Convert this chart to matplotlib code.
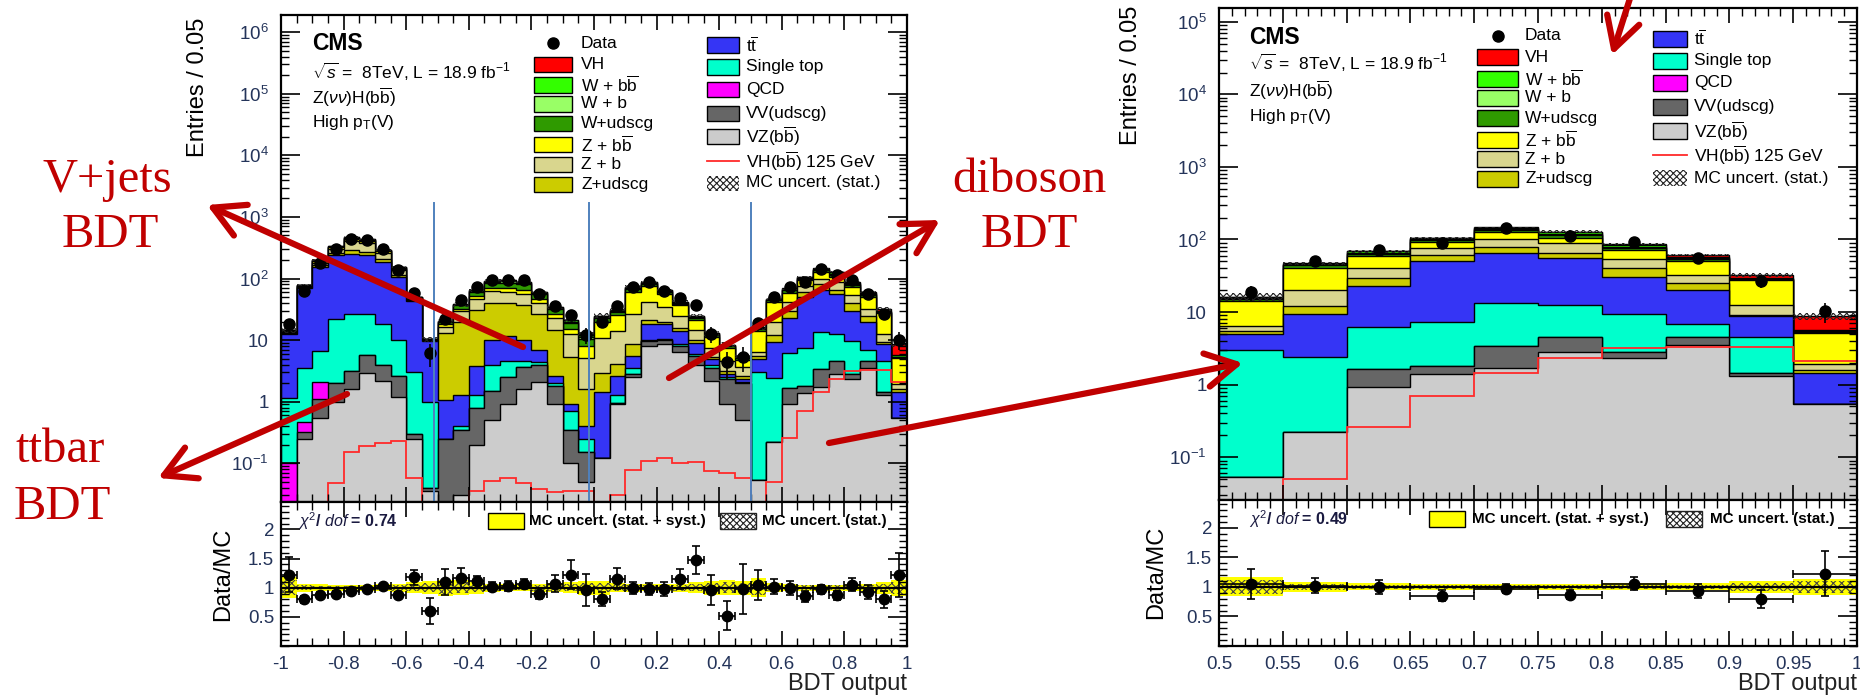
import numpy as np
import matplotlib.pyplot as plt
from matplotlib.patches import Rectangle, FancyArrowPatch
from matplotlib.lines import Line2D
from matplotlib.ticker import MultipleLocator, LogLocator, NullFormatter, FuncFormatter, FixedLocator

plt.rcParams['font.family'] = ['Liberation Sans', 'DejaVu Sans']
plt.rcParams['mathtext.fontset'] = 'custom'
plt.rcParams['mathtext.rm'] = 'Liberation Sans'
plt.rcParams['mathtext.it'] = 'Liberation Sans:italic'
plt.rcParams['mathtext.bf'] = 'Liberation Sans:bold'
plt.rcParams['hatch.linewidth'] = 0.8

# ---------------- data ----------------
# stack order, bottom -> top
procs = ['VZbb', 'VVudscg', 'QCD', 'stop', 'ttbar', 'Zudscg', 'Zb', 'Zbb', 'Wudscg', 'Wb', 'Wbb', 'VH']
colors = ['#cccccc', '#666666', '#ff00ff', '#00ffcc', '#3535f5', '#cccc00', '#d9d68e',
          '#ffff00', '#2f9a00', '#99ff66', '#33ff00', '#ff0000']

# BDT output 0.5 .. 1 (right panel, also the last 10 bins of the left panel)
vzbb_hi = [0.054, 0.22, 0.93, 1.38, 1.7, 2.85, 2.3, 3.5, 1.3, 0.54]
vv_hi = [0.0, 0.0, 0.72, 0.42, 1.7, 1.65, 0.5, 1.0, 0.15, 0.0]
qcd_hi = [0.0, 0.0, 0.0, 0.0, 0.0, 0.0, 0.0, 0.0, 0.0, 0.0]
stop_hi = [2.95, 2.2, 4.55, 5.5, 10.1, 8.2, 6.7, 2.4, 3.05, 0.0]
tt_hi = [2.0, 6.9, 16.3, 42.7, 52.5, 42.3, 20.5, 13.1, 4.2, 0.91]
zudscg_hi = [0.5, 2.7, 7.0, 11.0, 14.0, 11.0, 10.0, 5.0, 0.5, 0.15]
zb_hi = [1.0, 8.0, 11.5, 15.0, 20.0, 23.0, 13.0, 7.0, 3.4, 0.3]
zbb_hi = [7.5, 21.0, 18.0, 17.0, 26.0, 17.0, 19.0, 18.0, 14.9, 3.3]
wudscg_hi = [1.0, 3.0, 5.0, 6.0, 9.0, 8.0, 5.0, 3.0, 0.8, 0.1]
wb_hi = [0.5, 1.0, 2.0, 3.0, 4.0, 4.0, 3.0, 2.0, 0.4, 0.1]
wbb_hi = [0.6, 1.5, 2.5, 3.0, 6.0, 8.0, 4.0, 3.0, 1.0, 0.3]
vh_hi = [0.2, 0.3, 0.4, 0.7, 1.4, 2.0, 2.5, 3.0, 2.8, 3.0]
vh125_hi = [0.0, 0.05, 0.26, 0.7, 1.45, 2.3, 3.2, 3.3, 3.3, 2.1]
data_hi = [18.6, 50, 72, 89, 143, 112, 93, 55, 26.5, 10.2]
ratio_hi = [1.05, 1.02, 1.0, 0.85, 0.97, 0.87, 1.05, 0.93, 0.8, 1.22]
rerr_hi = [0.26, 0.13, 0.12, 0.09, 0.08, 0.08, 0.11, 0.12, 0.15, 0.38]
syst_hi = [0.16, 0.08, 0.06, 0.05, 0.05, 0.05, 0.06, 0.06, 0.10, 0.14]
stat_hi = [0.12, 0.05, 0.04, 0.04, 0.03, 0.04, 0.04, 0.04, 0.07, 0.10]

# BDT output -1 .. 0.5 (first 30 bins of the left panel)
vzbb_lo = [0, 0.25, 0.55, 1.0, 1.6, 2.9, 2.2, 1.2, 0.25, 0.035,
           0, 0.03, 0.2, 0.5, 0.9, 1.6, 2.1, 0.9, 0.1, 0.05,
           0.12, 0.9, 2.5, 8.0, 8.5, 6.5, 4.0, 2.2, 0.9, 0.5]
vv_lo = [0, 0.07, 0.55, 1.0, 1.6, 2.9, 1.8, 1.4, 0.05, 0.005,
         0.25, 0.32, 0.6, 1.0, 1.6, 2.1, 1.9, 0.9, 0.25, 0.1,
         0, 0.05, 0.3, 1.5, 1.5, 1.5, 1.5, 1.3, 1.4, 1.5]
qcd_lo = [0.1, 0.15, 1.0, 0, 0, 0, 0, 0, 0, 0,
          0, 0, 0, 0, 0, 0, 0, 0, 0, 0,
          0, 0, 0, 0, 0, 0, 0, 0, 0, 0]
stop_lo = [1.05, 3.0, 4.5, 20, 23, 21, 14, 7.5, 2.7, 0.95,
           0, 0.05, 0.5, 2.5, 2.0, 0.8, 0.4, 0.2, 0.35, 0.1,
           0, 0.35, 0.7, 0.5, 0.3, 0.5, 0.5, 0.5, 0.2, 0.1]
tt_lo = [11.5, 66, 150, 215, 220, 210, 170, 95, 40, 8.5,
         0.8, 0.9, 2.5, 6, 7, 5.5, 2.5, 0.6, 0.2, 0.15,
         1.3, 1.3, 2.0, 8, 7.7, 5.5, 3, 1, 0.3, 0.2]
zudscg_lo = [0.5, 2.5, 10, 20, 40, 35, 20, 10, 1.5, 0.2,
             12, 18, 27, 30, 28, 27, 20, 12, 4.5, 1.2,
             1.5, 1.5, 3, 3, 2, 1.5, 1, 0.4, 0.3, 0.3]
zb_lo = [0.5, 2.5, 15, 45, 120, 105, 50, 20, 2, 0.3,
         3.5, 10, 15, 22, 22, 20, 13, 8, 7, 3.5,
         8, 10, 18, 20, 14, 9, 4.5, 2, 1.5, 1]
zbb_lo = [0.6, 2.5, 12, 18, 35, 32, 18, 10, 2, 0.2,
          1.5, 3, 6, 8, 9, 9, 7, 4, 3, 3,
          9, 11, 35, 35, 22, 12, 7, 3.8, 2.8, 1.2]
wudscg_lo = [0.3, 1.2, 5, 8, 17, 15, 9, 5, 0.8, 0.05,
             1.5, 4.5, 8.5, 15, 15, 14, 9, 5, 3.5, 2.5,
             2.5, 3, 6, 6, 4, 2.5, 1.5, 0.8, 0.5, 0.3]
wb_lo = [0.1, 0.4, 1.5, 2.5, 5, 4.5, 3, 1.5, 0.3, 0.03,
         0.3, 1, 2, 4, 4, 4, 2.5, 1.2, 1, 0.8,
         1.3, 1.5, 3, 3, 2, 1.5, 0.8, 0.4, 0.2, 0.15]
wbb_lo = [0.15, 0.4, 1.5, 2.5, 5, 4.5, 3, 1.5, 0.3, 0.03,
          0.2, 0.7, 1.7, 3, 3.5, 4, 2.5, 1.2, 1, 0.9,
          1.3, 1.5, 3.5, 3.5, 2, 1.3, 0.9, 0.4, 0.3, 0.2]
vh_lo = [0, 0.03, 0.1, 0.15, 0.2, 0.25, 0.2, 0.15, 0.05, 0,
         0, 0, 0.05, 0.05, 0.05, 0.05, 0.05, 0.05, 0.05, 0.05,
         0.05, 0.05, 0.1, 0.15, 0.15, 0.12, 0.1, 0.07, 0.05, 0.05]
vh125_lo = [0, 0, 0.018, 0.047, 0.15, 0.19, 0.21, 0.23, 0.058, 0,
            0, 0.018, 0.035, 0.052, 0.058, 0.047, 0.038, 0.034, 0.036, 0.036,
            0.02, 0.03, 0.079, 0.11, 0.12, 0.1, 0.105, 0.075, 0.07, 0.058]
data_lo = [18, 63, 178, 300, 445, 420, 300, 135, 59, 6.2,
           22, 45, 72, 94, 96, 94, 55, 36, 26, 12,
           20, 36, 74, 87, 63, 48, 37, 12.5, 4.4, 5.4]
ratio_lo = [1.22, 0.8, 0.88, 0.9, 0.95, 0.97, 1.03, 0.88, 1.18, 0.6,
            1.1, 1.17, 1.12, 1.02, 1.03, 1.07, 0.9, 1.07, 1.22, 0.96,
            0.8, 1.15, 1.0, 0.98, 0.98, 1.15, 1.47, 0.96, 0.52, 0.98]
rerr_lo = [0.3, 0.06, 0.05, 0.04, 0.03, 0.03, 0.04, 0.05, 0.13, 0.22,
           0.22, 0.17, 0.08, 0.08, 0.08, 0.08, 0.1, 0.15, 0.25, 0.27,
           0.12, 0.18, 0.1, 0.1, 0.12, 0.17, 0.24, 0.26, 0.25, 0.43]
syst_lo = [0.18, 0.07, 0.06, 0.05, 0.05, 0.05, 0.06, 0.07, 0.09, 0.11,
           0.14, 0.13, 0.1, 0.07, 0.06, 0.06, 0.07, 0.08, 0.09, 0.12,
           0.12, 0.08, 0.07, 0.06, 0.06, 0.07, 0.09, 0.12, 0.13, 0.12]
stat_lo = [0.13, 0.04, 0.03, 0.03, 0.03, 0.03, 0.04, 0.05, 0.06, 0.08,
           0.1, 0.09, 0.07, 0.05, 0.04, 0.04, 0.05, 0.06, 0.06, 0.08,
           0.08, 0.06, 0.05, 0.04, 0.04, 0.05, 0.06, 0.08, 0.09, 0.08]

comps_hi = [vzbb_hi, vv_hi, qcd_hi, stop_hi, tt_hi, zudscg_hi, zb_hi, zbb_hi, wudscg_hi, wb_hi, wbb_hi, vh_hi]
comps_lo = [vzbb_lo, vv_lo, qcd_lo, stop_lo, tt_lo, zudscg_lo, zb_lo, zbb_lo, wudscg_lo, wb_lo, wbb_lo, vh_lo]
comps_all = [np.concatenate([a, b]) for a, b in zip(comps_lo, comps_hi)]

W, H = 1860, 696
RED = '#c00000'
TICKC = '#24345a'
FLOOR = 1e-4


def box(x0, y0, x1, y1):
    return [x0 / W, 1 - y1 / H, (x1 - x0) / W, (y1 - y0) / H]


def fx(x, y):
    return x / W, 1 - y / H


fig = plt.figure(figsize=(18.6, 6.96), dpi=100)


def style(ax, major, minor):
    ax.xaxis.set_major_locator(MultipleLocator(major))
    ax.xaxis.set_minor_locator(MultipleLocator(minor))
    ax.tick_params(which='both', direction='in', top=True, right=True, labelsize=13.5,
                   labelcolor=TICKC, color='black')
    ax.tick_params(which='major', length=11, width=1.2, pad=7)
    ax.tick_params(which='minor', length=6, width=1.0)
    for s in ax.spines.values():
        s.set_linewidth(1.6)


def draw_main(ax, edges, comps, data, vh125, stat, ylim, major, minor):
    cum = np.cumsum(np.array(comps, dtype=float), axis=0)
    for i in reversed(range(len(procs))):
        ax.stairs(np.maximum(cum[i], FLOOR), edges, baseline=FLOOR, fill=True,
                  facecolor=colors[i], edgecolor='black', linewidth=1.0)
    total = cum[-1]
    ax.stairs(total * (1 + np.array(stat)), edges, baseline=total * (1 - np.array(stat)),
              fill=True, facecolor='none', edgecolor='#222222', hatch='xxxxx', linewidth=0)
    ax.stairs(np.maximum(vh125, FLOOR), edges, color='#ff2a2a', linewidth=1.3)
    centers = 0.5 * (edges[1:] + edges[:-1])
    ax.errorbar(centers, data, yerr=np.sqrt(data), fmt='o', color='black', ms=8,
                elinewidth=1.2, capsize=0)
    ax.set_yscale('log')
    ax.set_xlim(edges[0], edges[-1])
    ax.set_ylim(*ylim)
    style(ax, major, minor)
    ax.yaxis.set_major_locator(LogLocator(base=10, subs=(1.0,), numticks=30))
    ax.yaxis.set_minor_locator(LogLocator(base=10, subs=np.arange(2, 10), numticks=30))
    ax.yaxis.set_minor_formatter(NullFormatter())

    def fmt(v, _):
        e = int(round(np.log10(v)))
        return {0: '1', 1: '10'}.get(e, r'$10^{%d}$' % e)
    ax.yaxis.set_major_formatter(FuncFormatter(fmt))
    ax.tick_params(axis='y', which='major', length=14, pad=9)
    ax.set_xticklabels([])


def draw_ratio(ax, edges, ratio, rerr, syst, stat, major, minor):
    ones = np.ones(len(edges) - 1)
    ax.stairs(ones + syst, edges, baseline=ones - np.array(syst), fill=True,
              facecolor='#ffff00', edgecolor='none', linewidth=0)
    ax.stairs(ones + stat, edges, baseline=ones - np.array(stat), fill=True,
              facecolor='none', edgecolor='#444444', hatch='xxxx', linewidth=0)
    ax.axhline(1.0, color='black', lw=1.6)
    centers = 0.5 * (edges[1:] + edges[:-1])
    half = 0.5 * (edges[1] - edges[0])
    ax.errorbar(centers, ratio, xerr=half, yerr=rerr, fmt='o', color='black', ms=7.5,
                elinewidth=1.2, capsize=3, capthick=1.2)
    ax.set_xlim(edges[0], edges[-1])
    ax.set_ylim(0, 2.47)
    style(ax, major, minor)
    ax.yaxis.set_major_locator(FixedLocator([0.5, 1.0, 1.5, 2.0]))
    ax.yaxis.set_minor_locator(MultipleLocator(0.1))
    ax.yaxis.set_major_formatter(FuncFormatter(lambda v, _: '%g' % v))
    ax.xaxis.set_major_formatter(FuncFormatter(lambda v, _: '%g' % round(v, 2)))
    ax.tick_params(axis='y', which='major', length=14, pad=5)


def legend(cx1, w1, tx1, rows1, cx2, w2, tx2, rows2, hx, hrows, bh):
    lab1 = ['Data', 'VH', r'W + b$\overline{\rm b}$', 'W + b', 'W+udscg',
            r'Z + b$\overline{\rm b}$', 'Z + b', 'Z+udscg']
    col1 = [None, colors[11], colors[10], colors[9], colors[8], colors[7], colors[6], colors[5]]
    for lab, c, y in zip(lab1, col1, rows1):
        if c is None:
            fig.add_artist(Line2D([(cx1 + w1 / 2) / W], [1 - y / H], marker='o', ms=8,
                                  color='black', transform=fig.transFigure))
        else:
            fig.add_artist(Rectangle(fx(cx1, y + bh / 2), w1 / W, bh / H, transform=fig.transFigure,
                                     facecolor=c, edgecolor='black', lw=1.0))
        fig.text(*fx(tx1, y), lab, fontsize=12.5, va='center', ha='left')
    lab2 = [r't$\overline{\rm t}$', 'Single top', 'QCD', 'VV(udscg)', r'VZ(b$\overline{\rm b}$)',
            r'VH(b$\overline{\rm b}$) 125 GeV', 'MC uncert. (stat.)']
    col2 = [colors[4], colors[3], colors[2], colors[1], colors[0], 'line', 'hatch']
    for lab, c, y in zip(lab2, col2, rows2):
        if c == 'line':
            fig.add_artist(Line2D([cx2 / W, (cx2 + w2) / W], [1 - y / H] * 2, color='#ff2a2a',
                                  lw=1.3, transform=fig.transFigure))
        elif c == 'hatch':
            fig.add_artist(Rectangle(fx(cx2, y + bh / 2), w2 / W, bh / H, transform=fig.transFigure,
                                     facecolor='none', edgecolor='#222222', hatch='xxxxx', lw=0))
        else:
            fig.add_artist(Rectangle(fx(cx2, y + bh / 2), w2 / W, bh / H, transform=fig.transFigure,
                                     facecolor=c, edgecolor='black', lw=1.0))
        fig.text(*fx(tx2, y), lab, fontsize=12.5, va='center', ha='left')
    fig.text(*fx(hx, hrows[0]), 'CMS', fontsize=16.5, fontweight='bold', va='center')
    fig.text(*fx(hx, hrows[1]), r'$\sqrt{s}$ =  8TeV, L = 18.9 fb$^{-1}$', fontsize=12.5, va='center')
    fig.text(*fx(hx, hrows[2]), r'Z($\nu\nu$)H(b$\overline{\rm b}$)', fontsize=12.5, va='center')
    fig.text(*fx(hx, hrows[3]), r'High p$_{\rm T}$(V)', fontsize=12.5, va='center')


def ratio_legend(chi_x, chi, yb0, tx0, hb0, tx1, y):
    fig.text(*fx(chi_x, y), r'$\chi^{2}$/ $dof$ = ' + chi, fontsize=11.5, fontweight='bold',
             va='center', color='#1a1a40')
    fig.add_artist(Rectangle(fx(yb0, y + 8), 36 / W, 16 / H, transform=fig.transFigure,
                             facecolor='#ffff00', edgecolor='black', lw=1.0))
    fig.text(*fx(tx0, y), 'MC uncert. (stat. + syst.)', fontsize=11, fontweight='bold', va='center')
    fig.add_artist(Rectangle(fx(hb0, y + 8), 36 / W, 16 / H, transform=fig.transFigure,
                             facecolor='none', edgecolor='#222222', hatch='xxxxx', lw=1.0))
    fig.text(*fx(tx1, y), 'MC uncert. (stat.)', fontsize=11, fontweight='bold', va='center')


# ---------------- left panel: BDT -1 .. 1 ----------------
edges_l = np.linspace(-1, 1, 41)
axl = fig.add_axes(box(281, 15, 907, 502))
axlr = fig.add_axes(box(281, 502, 907, 646))
draw_main(axl, edges_l, comps_all, np.concatenate([data_lo, data_hi]),
          np.concatenate([vh125_lo, vh125_hi]), np.concatenate([stat_lo, stat_hi]),
          (10 ** -1.63, 10 ** 6.28), 0.2, 0.05)
draw_ratio(axlr, edges_l, np.concatenate([ratio_lo, ratio_hi]), np.concatenate([rerr_lo, rerr_hi]),
           np.concatenate([syst_lo, syst_hi]), np.concatenate([stat_lo, stat_hi]), 0.2, 0.05)
# region boundaries between the three BDTs (drawn from below the legend to the axis)
yb_top = (502 - 203) / (502 - 15)
yb_bot = (502 - 506) / (502 - 15)
for xb in (-0.51, -0.015, 0.5):
    axl.plot([xb, xb], [yb_bot, yb_top], transform=axl.get_xaxis_transform(), color='#4f81bd',
             lw=1.4, clip_on=False, zorder=5)

# ---------------- right panel: BDT 0.5 .. 1 ----------------
edges_r = np.linspace(0.5, 1.0, 11)
axr = fig.add_axes(box(1219, 8, 1857, 500))
axrr = fig.add_axes(box(1219, 500, 1857, 646))
draw_main(axr, edges_r, comps_hi, data_hi, vh125_hi, stat_hi, (10 ** -1.59, 10 ** 5.19), 0.05, 0.01)
draw_ratio(axrr, edges_r, ratio_hi, rerr_hi, syst_hi, stat_hi, 0.05, 0.01)

# axis titles
for xlab, ylab_top, rlab_top in ((198, 18, 528), (1131, 6, 526)):
    fig.text(*fx(xlab, ylab_top), 'Entries / 0.05', rotation=90, ha='center', va='top', fontsize=17)
    fig.text(*fx(xlab + 25, rlab_top), 'Data/MC', rotation=90, ha='center', va='top', fontsize=17)
fig.text(*fx(907, 684), 'BDT output', ha='right', va='center', fontsize=17, color='#222222')
fig.text(*fx(1857, 684), 'BDT output', ha='right', va='center', fontsize=17, color='#222222')

legend(534, 38, 581, [43, 64.8, 85, 104, 123.4, 144.7, 164.3, 184.5],
       707, 32, 746, [45, 67, 89.6, 113.5, 136, 161, 183], 312, [44, 72, 97, 122], 15)
legend(1477, 41, 1525, [36, 57, 79, 98, 118, 140, 159, 179],
       1653, 34, 1694, [38.5, 60.6, 83, 107, 131, 155, 178], 1249, [38, 63, 90, 116], 16)
ratio_legend(298, '0.74', 488, 529, 720, 762, 521)
ratio_legend(1249, '0.49', 1429, 1472, 1666, 1710, 519)

# ---------------- annotations ----------------
for s, x, y in (('V+jets', 107, 180), ('BDT', 110, 235), ('diboson', 1029, 180), ('BDT', 1029, 235),
                ('ttbar', 60, 450), ('BDT', 62, 507)):
    fig.text(*fx(x, y), s, family='Liberation Serif', fontsize=35, color=RED, ha='center', va='center')

arrows = [((523, 347), (207, 205)), ((669, 378), (940, 220)), ((347, 394), (158, 478)),
          ((829, 443), (1243, 363)), ((1632, -8), (1612, 55))]
for a, b in arrows:
    fig.add_artist(FancyArrowPatch(fx(*a), fx(*b), transform=fig.transFigure,
                                   arrowstyle='->,head_length=1.0,head_width=0.55', mutation_scale=22,
                                   lw=4.5, color=RED, shrinkA=0, shrinkB=0))

fig.savefig('out.png', dpi=100)
